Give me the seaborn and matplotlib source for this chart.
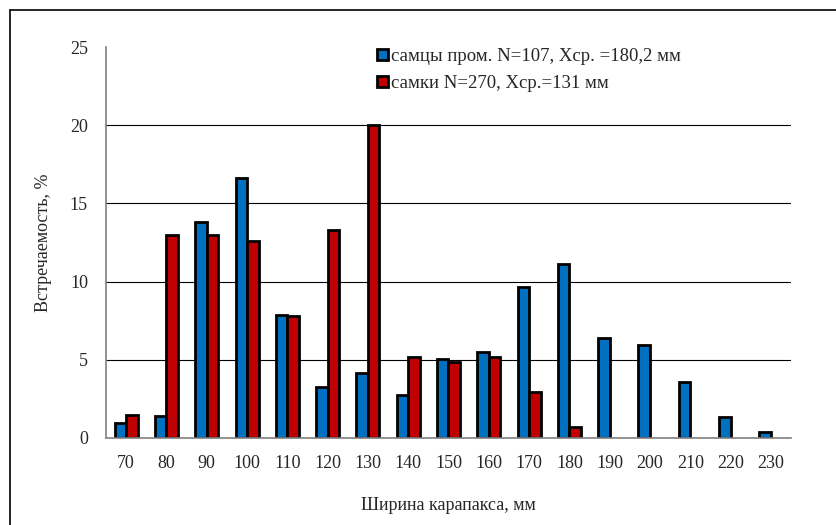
import numpy as np
import pandas as pd
import matplotlib
matplotlib.use("Agg")
import matplotlib.pyplot as plt
import seaborn as sns

# --- data ---
widths = [70, 80, 90, 100, 110, 120, 130, 140, 150, 160, 170, 180, 190, 200, 210, 220, 230]
males = [0.95, 1.4, 13.8, 16.6, 7.85, 3.25, 4.15, 2.75, 5.05, 5.5, 9.65, 11.1, 6.4, 5.95, 3.6, 1.35, 0.4]
females = [1.5, 13.0, 13.0, 12.6, 7.8, 13.3, 20.0, 5.2, 4.85, 5.2, 2.95, 0.7, 0, 0, 0, 0, 0]
label_m = "самцы пром. N=107, Xср. =180,2 мм"
label_f = "самки N=270, Xср.=131 мм"

df = pd.DataFrame({
    "width": [str(w) for w in widths] * 2,
    "value": males + females,
    "group": [label_m] * len(widths) + [label_f] * len(widths),
})
# empty classes are not drawn at all in the original
df["value"] = df["value"].replace(0, np.nan)

sns.set_style("white")
plt.rcParams["font.family"] = ["Liberation Serif", "DejaVu Serif"]

fig = plt.figure(figsize=(8.37, 5.25), dpi=100)
ax = fig.add_axes([106 / 837, 1 - 438 / 525, (791 - 106) / 837, (438 - 47) / 525])

sns.barplot(data=df, x="width", y="value", hue="group", ax=ax,
            palette=["#0070C0", "#C00000"], width=0.57,
            edgecolor="black", linewidth=2.0, saturation=1)

ax.set_ylim(0, 25)
ax.set_xlim(-0.5, len(widths) - 0.5)
ax.set_yticks([0, 5, 10, 15, 20, 25])
for y in [5, 10, 15, 20]:
    ax.axhline(y, color="black", lw=0.8, zorder=0)
ax.set_axisbelow(True)

for s in ["top", "right"]:
    ax.spines[s].set_visible(False)
for s in ["left", "bottom"]:
    ax.spines[s].set_color("#808080")
    ax.spines[s].set_linewidth(1.2)

# ticks on category boundaries, labels in between
ax.set_xticks([i - 0.5 for i in range(len(widths) + 1)], minor=True)
ax.tick_params(axis="x", which="major", length=0, labelsize=13, pad=12)
ax.tick_params(axis="x", which="minor", length=5, color="#808080", width=1.2, direction="out")
ax.tick_params(axis="y", length=5, color="#808080", width=1.2, direction="out", labelsize=13, pad=8)

ax.set_xlabel("Ширина карапакса, мм", fontsize=13, labelpad=18)
ax.set_ylabel("Встречаемость, %", fontsize=13, labelpad=13)

leg = ax.legend(loc="upper left", bbox_to_anchor=(0.385, 1.017), frameon=False,
                fontsize=13.5, handlelength=0.55, handleheight=0.55, handletextpad=0.2,
                labelspacing=0.55, borderaxespad=0.0)
for h in leg.legend_handles:
    h.set_edgecolor("black")
    h.set_linewidth(2.0)

# outer frame: only the top and left edges fall inside the picture
fig.add_artist(plt.Line2D([10 / 837, 1], [1 - 10 / 525, 1 - 10 / 525], transform=fig.transFigure,
                          color="black", lw=1.2))
fig.add_artist(plt.Line2D([10 / 837, 10 / 837], [0, 1 - 10 / 525], transform=fig.transFigure,
                          color="black", lw=1.2))

fig.savefig("out.png", dpi=100)
